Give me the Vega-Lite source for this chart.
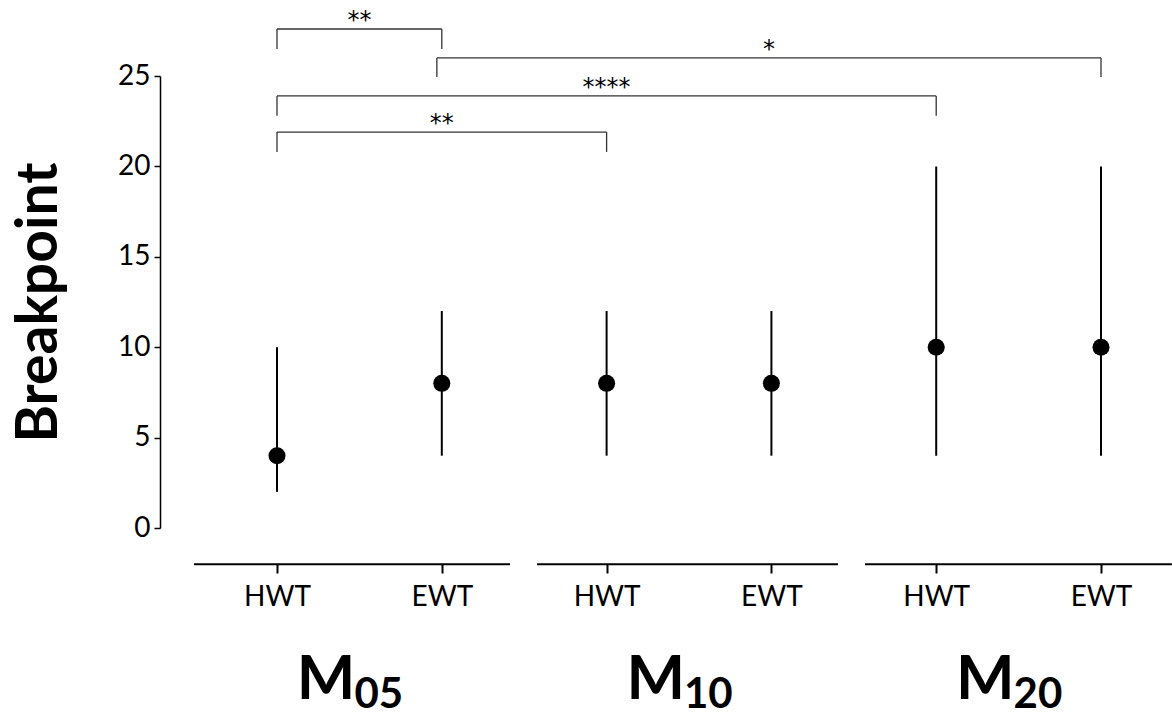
{
  "$schema": "https://vega.github.io/schema/vega-lite/v6.json",
  "width": 1000,
  "height": 452,
  "autosize": {"type": "none"},
  "padding": {"left": 160, "top": 76, "right": 12, "bottom": 191},
  "background": "white",
  "config": {
    "font": "Lato",
    "view": {"stroke": null},
    "axis": {"grid": false, "labelColor": "black", "domainColor": "black", "tickColor": "black", "titleColor": "black", "labelFont": "Lato", "titleFont": "Lato"}
  },
  "datasets": {
    "pts": [
      {"group": "M05", "cond": "HWT", "pos": 1, "median": 4, "lo": 2, "hi": 10},
      {"group": "M05", "cond": "EWT", "pos": 2, "median": 8, "lo": 4, "hi": 12},
      {"group": "M10", "cond": "HWT", "pos": 3, "median": 8, "lo": 4, "hi": 12},
      {"group": "M10", "cond": "EWT", "pos": 4, "median": 8, "lo": 4, "hi": 12},
      {"group": "M20", "cond": "HWT", "pos": 5, "median": 10, "lo": 4, "hi": 20},
      {"group": "M20", "cond": "EWT", "pos": 6, "median": 10, "lo": 4, "hi": 20}
    ],
    "sig": [
      {"from": 1, "to": 2, "mid": 1.5, "top": 27.6, "bot": 26.5, "lab": "**", "laby": 28.05},
      {"from": 1.97, "to": 6, "mid": 3.985, "top": 26.0, "bot": 24.95, "lab": "*", "laby": 26.45},
      {"from": 1, "to": 5, "mid": 3.0, "top": 23.9, "bot": 22.8, "lab": "****", "laby": 24.35},
      {"from": 1, "to": 3, "mid": 2.0, "top": 21.9, "bot": 20.8, "lab": "**", "laby": 22.35}
    ],
    "segs": [
      {"group": "M05", "start": 0.496, "end": 2.414, "mid": 1.5, "main": "M", "sub": "05"},
      {"group": "M10", "start": 2.578, "end": 4.404, "mid": 3.5, "main": "M", "sub": "10"},
      {"group": "M20", "start": 4.568, "end": 6.43, "mid": 5.5, "main": "M", "sub": "20"}
    ]
  },
  "layer": [
    {
      "data": {"name": "pts"},
      "mark": {"type": "rule", "color": "black", "strokeWidth": 2},
      "encoding": {
        "x": {
          "field": "pos", "type": "quantitative",
          "scale": {"domain": [0.29, 6.358], "nice": false, "zero": false},
          "axis": {
            "values": [1, 2, 3, 4, 5, 6],
            "labelExpr": "datum.value % 2 == 1 ? 'HWT' : 'EWT'",
            "title": null, "domain": false, "offset": 36,
            "tickSize": 9, "tickWidth": 2, "labelFontSize": 28, "labelPadding": 10
          }
        },
        "y": {
          "field": "lo", "type": "quantitative",
          "scale": {"domain": [0, 25], "nice": false, "zero": false},
          "axis": {
            "values": [0, 5, 10, 15, 20, 25],
            "title": "Breakpoint", "titleFontSize": 57, "titleFontWeight": "bold", "titlePadding": 49,
            "labelFontSize": 28, "tickSize": 6, "tickWidth": 1.5, "domainWidth": 1.5, "labelPadding": 4
          }
        },
        "y2": {"field": "hi"}
      }
    },
    {
      "data": {"name": "pts"},
      "mark": {"type": "point", "filled": true, "shape": "circle", "color": "black", "size": 290, "opacity": 1},
      "encoding": {
        "x": {"field": "pos", "type": "quantitative"},
        "y": {"field": "median", "type": "quantitative"}
      }
    },
    {
      "data": {"name": "sig"},
      "mark": {"type": "rule", "color": "#333333", "strokeWidth": 1.3},
      "encoding": {
        "x": {"field": "from", "type": "quantitative"},
        "x2": {"field": "to"},
        "y": {"field": "top", "type": "quantitative"}
      }
    },
    {
      "data": {"name": "sig"},
      "mark": {"type": "rule", "color": "#333333", "strokeWidth": 1.3},
      "encoding": {
        "x": {"field": "from", "type": "quantitative"},
        "y": {"field": "bot", "type": "quantitative"},
        "y2": {"field": "top"}
      }
    },
    {
      "data": {"name": "sig"},
      "mark": {"type": "rule", "color": "#333333", "strokeWidth": 1.3},
      "encoding": {
        "x": {"field": "to", "type": "quantitative"},
        "y": {"field": "bot", "type": "quantitative"},
        "y2": {"field": "top"}
      }
    },
    {
      "data": {"name": "sig"},
      "mark": {"type": "text", "color": "black", "fontSize": 24, "baseline": "middle", "align": "center", "font": "DejaVu Sans"},
      "encoding": {
        "x": {"field": "mid", "type": "quantitative"},
        "y": {"field": "laby", "type": "quantitative"},
        "text": {"field": "lab"}
      }
    },
    {
      "data": {"name": "segs"},
      "mark": {"type": "rule", "color": "black", "strokeWidth": 2},
      "encoding": {
        "x": {"field": "start", "type": "quantitative"},
        "x2": {"field": "end"},
        "y": {"datum": -2, "type": "quantitative"}
      }
    },
    {
      "data": {"name": "segs"},
      "mark": {"type": "text", "color": "black", "fontSize": 62, "fontWeight": "bold", "align": "right", "baseline": "alphabetic", "dx": -4},
      "encoding": {
        "x": {"field": "mid", "type": "quantitative"},
        "y": {"datum": -9.45, "type": "quantitative"},
        "text": {"field": "main"}
      }
    },
    {
      "data": {"name": "segs"},
      "mark": {"type": "text", "color": "black", "fontSize": 42, "fontWeight": "bold", "align": "left", "baseline": "alphabetic", "dx": -5},
      "encoding": {
        "x": {"field": "mid", "type": "quantitative"},
        "y": {"datum": -9.98, "type": "quantitative"},
        "text": {"field": "sub"}
      }
    }
  ]
}
